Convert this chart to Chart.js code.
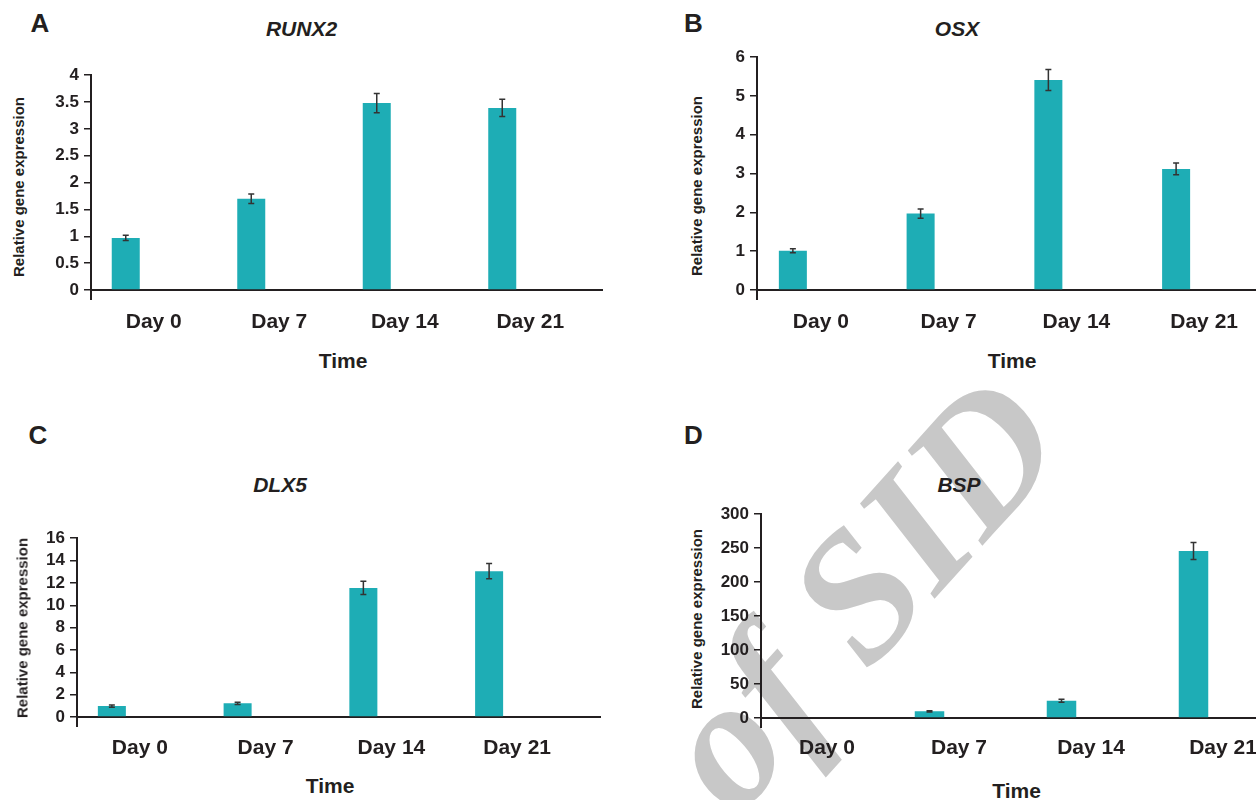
<!DOCTYPE html>
<html>
<head>
<meta charset="utf-8">
<title>Gene expression</title>
<script src="https://cdn.jsdelivr.net/npm/chart.js@4.4.1/dist/chart.umd.min.js"></script>
<style>
  body {
    margin: 0;
    width: 1256px;
    height: 800px;
    overflow: hidden;
    background: #fff;
    position: relative;
    font-family: 'Liberation Sans', Arial, sans-serif;
    color: #231f20;
  }
  canvas { position: absolute; z-index: 1; }
  .lbl {
    position: absolute;
    z-index: 2;
    white-space: nowrap;
    line-height: 1;
    font-weight: bold;
    transform: translate(-50%, -50%);
  }
  .letter { font-size: 26px; }
  .gene { font-size: 21px; font-style: italic; }
  .xtitle { font-size: 21px; }
  .ytitle { font-size: 15px; transform: translate(-50%, -50%) rotate(-90deg); }
  .mark {
    position: absolute;
    z-index: 0;
    left: 858px;
    top: 592px;
    white-space: nowrap;
    line-height: 1;
    font: italic bold 182px 'Liberation Serif', 'DejaVu Serif', serif;
    color: #c8c8c8;
    transform: translate(-50%, -50%) rotate(-48deg);
  }
</style>
</head>
<body>
<div class="mark">of SID</div>

<script>
// categories
const days = ['Day 0', 'Day 7', 'Day 14', 'Day 21'];

// A - RUNX2
const runx2 = [0.97, 1.70, 3.48, 3.39];
const runx2Err = [0.05, 0.09, 0.18, 0.16];
const runx2Ticks = [0, 0.5, 1, 1.5, 2, 2.5, 3, 3.5, 4];

// B - OSX
const osx = [1.01, 1.97, 5.41, 3.12];
const osxErr = [0.05, 0.12, 0.27, 0.15];
const osxTicks = [0, 1, 2, 3, 4, 5, 6];

// C - DLX5
const dlx5 = [0.98, 1.22, 11.55, 13.05];
const dlx5Err = [0.1, 0.1, 0.59, 0.68];
const dlx5Ticks = [0, 2, 4, 6, 8, 10, 12, 14, 16];

// D - BSP
const bsp = [1, 9.8, 25.4, 245.7];
const bspErr = [0, 1, 2.2, 12.5];
const bspTicks = [0, 50, 100, 150, 200, 250, 300];

const teal = '#1eadb5';
const ink = '#231f20';

Chart.defaults.font.family = "'Liberation Sans', Arial, sans-serif";
Chart.defaults.color = ink;

// error bars on top of the first dataset
const errorBarsPlugin = {
    id: 'errorBars',
    afterDatasetsDraw(chart, args, opts) {
        const meta = chart.getDatasetMeta(0);
        const y = chart.scales.y;
        const vals = chart.data.datasets[0].data;
        const ctx = chart.ctx;
        ctx.save();
        ctx.strokeStyle = '#333';
        ctx.lineWidth = 1.5;
        meta.data.forEach((bar, i) => {
            const e = opts.errors[i];
            if (!e) return;
            const hi = y.getPixelForValue(vals[i] + e);
            const lo = y.getPixelForValue(vals[i] - e);
            ctx.beginPath();
            ctx.moveTo(bar.x, hi); ctx.lineTo(bar.x, lo);
            ctx.moveTo(bar.x - 3, hi); ctx.lineTo(bar.x + 3, hi);
            ctx.moveTo(bar.x - 3, lo); ctx.lineTo(bar.x + 3, lo);
            ctx.stroke();
        });
        ctx.restore();
    }
};

// small axis stubs like the excel original (y axis tail, x axis run-out)
const axisTailsPlugin = {
    id: 'axisTails',
    afterDraw(chart, args, opts) {
        const a = chart.chartArea;
        const ctx = chart.ctx;
        ctx.save();
        ctx.strokeStyle = ink;
        ctx.lineWidth = 2;
        ctx.beginPath();
        ctx.moveTo(a.left, a.bottom);
        ctx.lineTo(a.left, a.bottom + 10);
        if (opts.ext) {
            ctx.moveTo(a.right, a.bottom);
            ctx.lineTo(a.right + opts.ext, a.bottom);
        }
        ctx.stroke();
        ctx.restore();
    }
};

const panels = [
    { values: runx2, errors: runx2Err, ticks: runx2Ticks, left: 91, top: 74, bottom: 290, catW: 125.5, barW: 28, ext: 10, labelPad: 19.4 },
    { values: osx, errors: osxErr, ticks: osxTicks, left: 757, top: 56, bottom: 290, catW: 127.7, barW: 28, ext: 0, labelPad: 19.4 },
    { values: dlx5, errors: dlx5Err, ticks: dlx5Ticks, left: 77, top: 537, bottom: 717, catW: 125.7, barW: 28, ext: 21, labelPad: 18.9 },
    { values: bsp, errors: bspErr, ticks: bspTicks, left: 761, top: 513, bottom: 718, catW: 132, barW: 29.5, ext: 0, labelPad: 17.9 }
];

function makeChart(p) {
    const yW = 50, xH = 50, padTop = 14;
    const w = Math.round(p.catW * days.length) + yW + p.ext;
    const h = p.bottom - p.top + padTop + xH;
    const canvas = document.createElement('canvas');
    canvas.width = w;
    canvas.height = h;
    canvas.style.width = w + 'px';
    canvas.style.height = h + 'px';
    canvas.style.left = (p.left - yW) + 'px';
    canvas.style.top = (p.top - padTop) + 'px';
    document.body.appendChild(canvas);

    // three slots per category, only the first one carries data
    const cp = p.barW * 3 / p.catW;
    const empty = days.map(() => null);

    new Chart(canvas, {
        type: 'bar',
        data: {
            labels: days,
            datasets: [
                { data: p.values, backgroundColor: teal, categoryPercentage: cp, barPercentage: 1 },
                { data: empty, categoryPercentage: cp, barPercentage: 1 },
                { data: empty, categoryPercentage: cp, barPercentage: 1 }
            ]
        },
        options: {
            responsive: false,
            animation: false,
            devicePixelRatio: 1,
            layout: { padding: { top: padTop, left: 0, right: p.ext, bottom: 0 } },
            plugins: {
                legend: { display: false },
                tooltip: { enabled: false },
                errorBars: { errors: p.errors },
                axisTails: { ext: p.ext }
            },
            scales: {
                x: {
                    grid: { display: false, drawTicks: false },
                    border: { display: true, color: ink, width: 2 },
                    ticks: {
                        color: ink,
                        font: { size: 21, weight: 'bold' },
                        padding: p.labelPad,
                        maxRotation: 0,
                        autoSkip: false
                    },
                    afterFit: s => { s.height = xH; }
                },
                y: {
                    min: 0,
                    max: p.ticks[p.ticks.length - 1],
                    afterBuildTicks: s => { s.ticks = p.ticks.map(v => ({ value: v })); },
                    grid: {
                        display: true,
                        drawOnChartArea: false,
                        drawTicks: true,
                        tickLength: 7,
                        color: ink,
                        lineWidth: 1.5
                    },
                    border: { display: true, color: ink, width: 2 },
                    ticks: {
                        color: ink,
                        font: { size: 17, weight: 'bold' },
                        padding: 5,
                        autoSkip: false,
                        callback: v => String(v)
                    },
                    afterFit: s => { s.width = yW; }
                }
            }
        },
        plugins: [errorBarsPlugin, axisTailsPlugin]
    });
}

panels.forEach(makeChart);

// panel letters, gene names and axis titles
const texts = [
    { t: 'A', cls: 'letter', x: 40, y: 22.5 },
    { t: 'B', cls: 'letter', x: 693.5, y: 22.5 },
    { t: 'C', cls: 'letter', x: 38, y: 435 },
    { t: 'D', cls: 'letter', x: 693.5, y: 435 },
    { t: 'RUNX2', cls: 'gene', x: 301.5, y: 27.5 },
    { t: 'OSX', cls: 'gene', x: 957, y: 27.5 },
    { t: 'DLX5', cls: 'gene', x: 280, y: 483.5 },
    { t: 'BSP', cls: 'gene', x: 959, y: 483.5 },
    { t: 'Relative gene expression', cls: 'ytitle', x: 18, y: 187 },
    { t: 'Relative gene expression', cls: 'ytitle', x: 696, y: 186 },
    { t: 'Relative gene expression', cls: 'ytitle', x: 22, y: 627.5 },
    { t: 'Relative gene expression', cls: 'ytitle', x: 696, y: 619 },
    { t: 'Time', cls: 'xtitle', x: 343, y: 359.5 },
    { t: 'Time', cls: 'xtitle', x: 1012, y: 359.5 },
    { t: 'Time', cls: 'xtitle', x: 330, y: 785 },
    { t: 'Time', cls: 'xtitle', x: 1016.5, y: 790 }
];

texts.forEach(d => {
    const el = document.createElement('div');
    el.className = 'lbl ' + d.cls;
    el.textContent = d.t;
    el.style.left = d.x + 'px';
    el.style.top = d.y + 'px';
    document.body.appendChild(el);
});
</script>
</body>
</html>
